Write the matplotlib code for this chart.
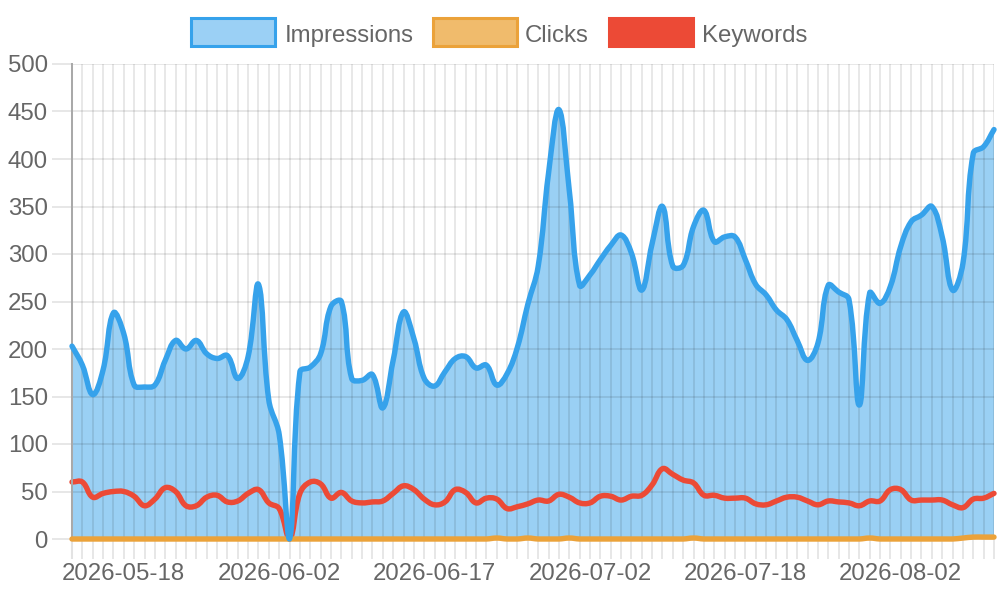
import numpy as np
import pandas as pd
import matplotlib
matplotlib.use('Agg')
import matplotlib.pyplot as plt
from matplotlib.path import Path
from matplotlib.patches import PathPatch, Rectangle

plt.rcParams['font.family'] = ['Liberation Sans', 'DejaVu Sans']

# daily labels, one day missing in July
dates = pd.date_range('2026-05-13', '2026-08-11').drop(pd.Timestamp('2026-07-10'))
labels = [d.strftime('%Y-%m-%d') for d in dates]

impressions = [203, 183, 152, 178, 238, 216, 162, 160, 162, 188,
               209, 200, 209, 195, 190, 193, 169, 192, 268, 146,
               110, 0, 176, 181, 195, 245, 250, 169, 167, 173,
               138, 188, 239, 211, 169, 161, 176, 190, 192, 180,
               183, 162, 174, 202, 247, 287, 385, 452, 367, 267,
               278, 294, 309, 320, 301, 262, 311, 350, 287, 288,
               329, 346, 313, 318, 318, 294, 268, 257, 241, 231,
               209, 188, 206, 267, 260, 252, 141, 259, 248, 266,
               308, 334, 341, 350, 318, 262, 290, 406, 413, 431]

clicks = [0] * 90
for i, v in [(41, 1), (44, 1), (48, 1), (60, 1), (77, 1),
             (86, 1), (87, 2), (88, 2), (89, 2)]:
    clicks[i] = v

keywords = [60, 60, 44, 48, 50, 50, 45, 35, 42, 54,
            50, 35, 35, 44, 46, 39, 40, 48, 52, 38,
            32, 0, 48, 60, 58, 43, 49, 40, 38, 39,
            40, 48, 56, 52, 42, 36, 39, 52, 49, 38,
            43, 42, 32, 34, 37, 41, 40, 47, 44, 38,
            38, 45, 45, 41, 45, 46, 57, 74, 68, 62,
            59, 46, 46, 43, 43, 43, 37, 36, 40, 44,
            44, 40, 36, 40, 39, 38, 35, 40, 40, 52,
            52, 41, 41, 41, 41, 36, 33, 42, 43, 48]

BLUE = '#36a2eb'
ORANGE = '#eba23a'
RED = '#ec4a36'
GRID = '#e3e3e3'
AXIS = '#a9a9a9'
TXT = '#666666'

fig = plt.figure(figsize=(10, 6), dpi=100)
ax = fig.add_axes([0.072, 1 - 539 / 600, 0.922, (539 - 64) / 600])
n = len(labels)
ax.set_xlim(0, n - 1)
ax.set_ylim(0, 500)


def spline(xs, ys, t=0.4):
    # same idea as chart.js splineCurve, done in pixel space
    pts = ax.transData.transform(np.column_stack([xs, ys]))
    bb = ax.bbox
    prev_cp = pts.copy()
    next_cp = pts.copy()
    for i in range(len(pts)):
        p0 = pts[max(i - 1, 0)]
        p1 = pts[i]
        p2 = pts[min(i + 1, len(pts) - 1)]
        d01 = np.hypot(*(p1 - p0))
        d12 = np.hypot(*(p2 - p1))
        tot = d01 + d12
        s01 = d01 / tot if tot else 0
        s12 = d12 / tot if tot else 0
        prev_cp[i] = p1 - t * s01 * (p2 - p0)
        next_cp[i] = p1 + t * s12 * (p2 - p0)
    for cp in (prev_cp, next_cp):
        cp[:, 0] = np.clip(cp[:, 0], bb.x0, bb.x1)
        cp[:, 1] = np.clip(cp[:, 1], bb.y0, bb.y1)
    verts = [pts[0]]
    codes = [Path.MOVETO]
    for i in range(1, len(pts)):
        verts += [next_cp[i - 1], prev_cp[i], pts[i]]
        codes += [Path.CURVE4] * 3
    verts = ax.transData.inverted().transform(np.array(verts))
    return verts, codes


x = np.arange(n)

# grid, drawn over the fill but under the lines
ax.set_xticks(x)
ax.set_xticklabels([labels[i] if (i - 5) % 15 == 0 and i >= 5 else '' for i in x])
ax.set_yticks(range(0, 501, 50))
ax.set_axisbelow('line')
ax.tick_params(axis='both', colors=GRID, width=1.2, length=14.4, labelsize=17.3,
               labelcolor=TXT, pad=3)
ax.grid(True, color='black', alpha=0.105, linewidth=1.2)
ax.get_xticklines()[0].set_color(AXIS)
ax.get_xticklines()[0].set_markeredgewidth(1.45)
for s in ['top', 'right']:
    ax.spines[s].set_visible(False)
ax.spines['bottom'].set_color(GRID)
ax.spines['bottom'].set_linewidth(1.2)
ax.spines['left'].set_color(AXIS)
ax.spines['left'].set_linewidth(1.45)

# impressions fill
v, c = spline(x, impressions)
fv = np.vstack([v, [[x[-1], 0], [x[0], 0], v[0]]])
fc = c + [Path.LINETO, Path.LINETO, Path.CLOSEPOLY]
ax.add_patch(PathPatch(Path(fv, fc), facecolor=(54/255, 162/255, 235/255, 0.5),
                       edgecolor='none', zorder=0.3))

lw = 3.9
for data, col, z in [(keywords, RED, 2), (clicks, ORANGE, 3), (impressions, BLUE, 4)]:
    v, c = spline(x, data)
    ax.add_patch(PathPatch(Path(v, c), facecolor='none', edgecolor=col,
                           linewidth=lw, capstyle='round', joinstyle='round',
                           zorder=z, clip_on=False))

# legend
leg = [('Impressions', BLUE, '#9bd0f5', 189, 285),
       ('Clicks', ORANGE, '#f0bb6c', 431, 525),
       ('Keywords', RED, RED, 607, 702)]
for name, ec, fc_, bx, tx in leg:
    r = Rectangle(((bx + 1.5) / 1000, 1 - 45.5 / 600), 84 / 1000, 27 / 600,
                  transform=fig.transFigure, facecolor=fc_, edgecolor=ec,
                  linewidth=2.2)
    fig.add_artist(r)
    fig.text(tx / 1000, 1 - 41.8 / 600, name, fontsize=17.3, color=TXT,
             va='baseline', ha='left')

fig.savefig('out.png', dpi=100)
